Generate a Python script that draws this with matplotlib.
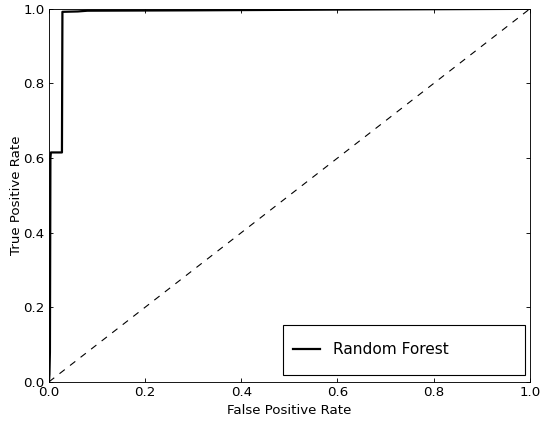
import matplotlib
matplotlib.use("Agg")
import matplotlib.pyplot as plt
from matplotlib.patches import Rectangle

fpr = [0.0, 0.001, 0.002, 0.003, 0.004, 0.027, 0.028, 0.06, 0.08, 0.3, 0.6, 1.0]
tpr = [0.0, 0.02, 0.08, 0.60, 0.615, 0.615, 0.992, 0.993, 0.995, 0.996, 0.998, 1.0]
chance = [0.0, 1.0]
label = "Random Forest"

plt.rcParams['font.family'] = ['DejaVu Sans']
fig = plt.figure(figsize=(6.8, 5.2625), dpi=80)
ax = fig.add_axes([0.090, 0.093, 0.884, 0.886])
ax.plot(fpr, tpr, color='black', lw=2, label=label)
ax.plot(chance, chance, color='black', ls='--', dashes=(6, 6), lw=1)
ax.set_xlim(0, 1)
ax.set_ylim(0, 1)
ax.set_xlabel('False Positive Rate', fontsize=12, labelpad=4)
ax.set_ylabel('True Positive Rate', fontsize=12, labelpad=0)
ax.tick_params(direction='in', top=True, right=True, length=4, labelsize=12, pad=4)
ax.set_xticks([0, 0.2, 0.4, 0.6, 0.8, 1.0])
ax.set_yticks([0, 0.2, 0.4, 0.6, 0.8, 1.0])
ax.xaxis.set_major_formatter(matplotlib.ticker.FormatStrFormatter('%.1f'))
ax.yaxis.set_major_formatter(matplotlib.ticker.FormatStrFormatter('%.1f'))

# legend frame
ax.add_patch(Rectangle((0.486, 0.019), 0.504, 0.134, transform=ax.transAxes,
                       facecolor='white', edgecolor='black', lw=1, zorder=4))
leg = ax.legend(loc='center left', bbox_to_anchor=(0.507, 0.086),
                borderaxespad=0, fontsize=13.9, frameon=False,
                handlelength=1.75, handletextpad=0.85, borderpad=0)
leg.set_zorder(5)
fig.savefig('out.png', dpi=80)
